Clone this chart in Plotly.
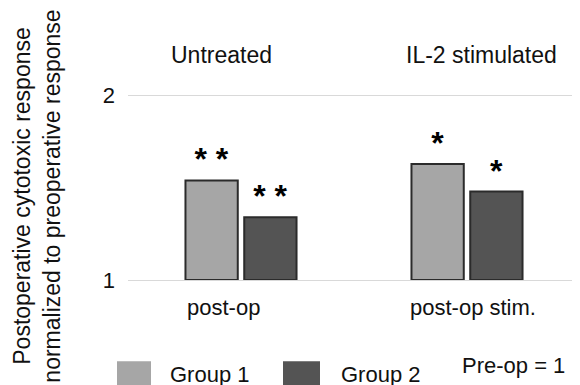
import plotly.graph_objects as go

# ---- data ----
categories = ["post-op", "post-op stim."]
panel_titles = ["Untreated", "IL-2 stimulated"]
group1_values = [1.54, 1.63]
group2_values = [1.34, 1.48]
group1_sig = ["* *", "*"]
group2_sig = ["* *", "*"]
series_names = ["Group 1", "Group 2"]
baseline = 1.0
y_ticks = [1, 2]

# ---- layout geometry (page has an 8px body margin) ----
OFF = 8
W, H = 580, 385
ML, MR, MT = 120, 8, 14
PH = 258.5
MB = H - MT - PH
PW = W - ML - MR
FONT = "Liberation Sans, Arial, sans-serif"
C1, C2 = "#a6a6a6", "#545454"
EDGE = "#2b2b2b"
TXT = "#111"


def px(xp):
    return (xp - OFF - ML) / PW


def py(yp):
    return (H - MB - (yp - OFF)) / PH


fig = go.Figure()
for name, vals, sig, col in [
    (series_names[0], group1_values, group1_sig, C1),
    (series_names[1], group2_values, group2_sig, C2),
]:
    fig.add_trace(go.Bar(
        name=name, x=categories, y=[v - baseline for v in vals], base=baseline,
        marker=dict(color=col, line=dict(color=EDGE, width=2)),
        text=sig, textposition="outside", constraintext="none",
        textfont=dict(family=FONT, size=32, color="#000", weight="bold"),
        cliponaxis=False, showlegend=False,
    ))

ann = []
# panel titles
for cat, t, xs in zip(categories, panel_titles, [-19.5, 14]):
    ann.append(dict(x=cat, y=2.22, xref="x", yref="y", text=t, showarrow=False,
                    xshift=xs, xanchor="center", yanchor="middle",
                    font=dict(family=FONT, size=23, color=TXT)))
# category labels
for cat, xs in zip(categories, [-18, 6]):
    ann.append(dict(x=cat, y=py(308), xref="x", yref="paper", text=cat, showarrow=False,
                    xshift=xs, xanchor="center", yanchor="middle",
                    font=dict(family=FONT, size=22, color=TXT)))
# y-axis title
ann.append(dict(x=px(37), y=py(197), xref="paper", yref="paper", textangle=-90,
                xanchor="center", yanchor="middle",
                text="Postoperative cytotoxic response<br>normalized to preoperative response",
                showarrow=False, font=dict(family=FONT, size=23, color=TXT)))
# legend
shapes = []
for (x0, x1), col, name, tx in [((117, 151), C1, series_names[0], 210),
                                 ((283, 320), C2, series_names[1], 381)]:
    shapes.append(dict(type="rect", xref="paper", yref="paper", x0=px(x0), x1=px(x1),
                       y0=py(362), y1=py(400), fillcolor=col, line=dict(width=0), layer="above"))
    ann.append(dict(x=px(tx), y=py(375), xref="paper", yref="paper", text=name, showarrow=False,
                    xanchor="center", yanchor="middle",
                    font=dict(family=FONT, size=22, color=TXT)))
ann.append(dict(x=px(513), y=py(366), xref="paper", yref="paper", text="Pre-op = 1",
                xanchor="center", yanchor="middle",
                showarrow=False, font=dict(family=FONT, size=22, color=TXT)))

fig.update_layout(
    width=W, height=H, margin=dict(l=ML, r=MR, t=MT, b=MB, pad=0),
    paper_bgcolor="white", plot_bgcolor="white",
    barmode="group", bargap=0.48, bargroupgap=0.11,
    font=dict(family=FONT, size=22, color=TXT),
    annotations=ann, shapes=shapes,
    xaxis=dict(showticklabels=False, showgrid=False, showline=True, linecolor="#d9d9d9",
               linewidth=1, ticks=""),
    yaxis=dict(range=[1, 2.4], tickvals=y_ticks, showgrid=True, gridcolor="#d9d9d9",
               gridwidth=1, zeroline=False, showline=False, ticks="", ticklabelstandoff=12,
               tickfont=dict(family=FONT, size=22, color=TXT)),
)
fig.write_html("out.html")
